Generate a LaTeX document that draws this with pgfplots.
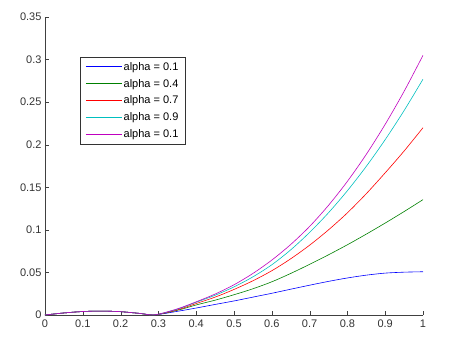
\documentclass[border=0pt]{standalone}
\usepackage{fontspec}
\setmainfont{Liberation Sans}
\usepackage{pgfplots}
\pgfplotsset{compat=1.18}
\usepackage{pgfplotstable}

\definecolor{mblue}{rgb}{0,0,1}
\definecolor{mgreen}{rgb}{0,0.5,0}
\definecolor{mred}{rgb}{1,0,0}
\definecolor{mcyan}{rgb}{0,0.75,0.75}
\definecolor{mmagenta}{rgb}{0.75,0,0.75}

% x, then one column per curve (alpha = 0.1, 0.4, 0.7, 0.9, 0.1)
\pgfplotstableread{
x     a      b      c      d      e
0     0      0      0      0      0
0.05  0.0024 0.0024 0.0024 0.0024 0.0024
0.1   0.0041 0.0041 0.0041 0.0041 0.0041
0.15  0.0046 0.0046 0.0046 0.0046 0.0046
0.2   0.0039 0.0039 0.0039 0.0039 0.0039
0.25  0.0019 0.0019 0.0019 0.0019 0.0019
0.29  0.0002 0.0002 0.0002 0.0002 0.0002
0.35  0.0043 0.0055 0.0060 0.0068 0.0072
0.4   0.0082 0.0118 0.0135 0.0150 0.0155
0.45  0.0124 0.0174 0.0210 0.0232 0.0246
0.5   0.0165 0.0238 0.0300 0.0330 0.0355
0.55  0.0210 0.0308 0.0402 0.0448 0.0488
0.6   0.0255 0.0390 0.0520 0.0590 0.0645
0.65  0.0303 0.0488 0.0660 0.0765 0.0828
0.7   0.0350 0.0595 0.0820 0.0970 0.1040
0.75  0.0395 0.0707 0.1000 0.1201 0.1288
0.8   0.0435 0.0825 0.1200 0.1460 0.1570
0.85  0.0468 0.0950 0.1425 0.1746 0.1887
0.9   0.0492 0.1080 0.1670 0.2060 0.2240
0.95  0.0503 0.1215 0.1926 0.2401 0.2627
1     0.0508 0.1355 0.2200 0.2770 0.3050
}\curves

\begin{document}
\begin{tikzpicture}
\begin{axis}[
  scale only axis,
  width=378bp, height=298bp,
  xmin=0, xmax=1, ymin=0, ymax=0.35,
  axis lines=left,
  axis line style={-, black!75},
  tick align=inside,
  major tick length=4bp,
  tick style={black!75},
  xtick={0,0.1,...,1},
  ytick={0,0.05,...,0.35},
  scaled y ticks=false,
  scaled x ticks=false,
  /pgf/number format/assume math mode=true,
  /pgf/number format/fixed,
  /pgf/number format/precision=2,
  ticklabel style={font=\fontsize{11bp}{13bp}\selectfont, text=black!80},
  xticklabel style={yshift=-1bp},
  legend style={at={(0.093,0.866)}, anchor=north west,
    font=\fontsize{11bp}{13bp}\selectfont, draw=black!80,
    row sep=3.5bp, inner xsep=5bp, inner ysep=3bp},
  legend cell align=left,
  legend image code/.code={\draw[line width=0.9pt] plot coordinates {(0cm,0cm) (0.6cm,0cm) (1.25cm,0cm)};},
]
\addplot[mblue, smooth, line width=0.6pt] table[x=x, y=a] {\curves};
\addlegendentry{alpha = 0.1}
\addplot[mgreen, smooth, line width=0.6pt] table[x=x, y=b] {\curves};
\addlegendentry{alpha = 0.4}
\addplot[mred, smooth, line width=0.6pt] table[x=x, y=c] {\curves};
\addlegendentry{alpha = 0.7}
\addplot[mcyan, smooth, line width=0.6pt] table[x=x, y=d] {\curves};
\addlegendentry{alpha = 0.9}
\addplot[mmagenta, smooth, line width=0.6pt] table[x=x, y=e] {\curves};
\addlegendentry{alpha = 0.1}
\end{axis}
\path ([shift={(-45bp,-32bp)}]current axis.south west) rectangle ([shift={(31bp,17bp)}]current axis.north east);
\end{tikzpicture}
\end{document}
